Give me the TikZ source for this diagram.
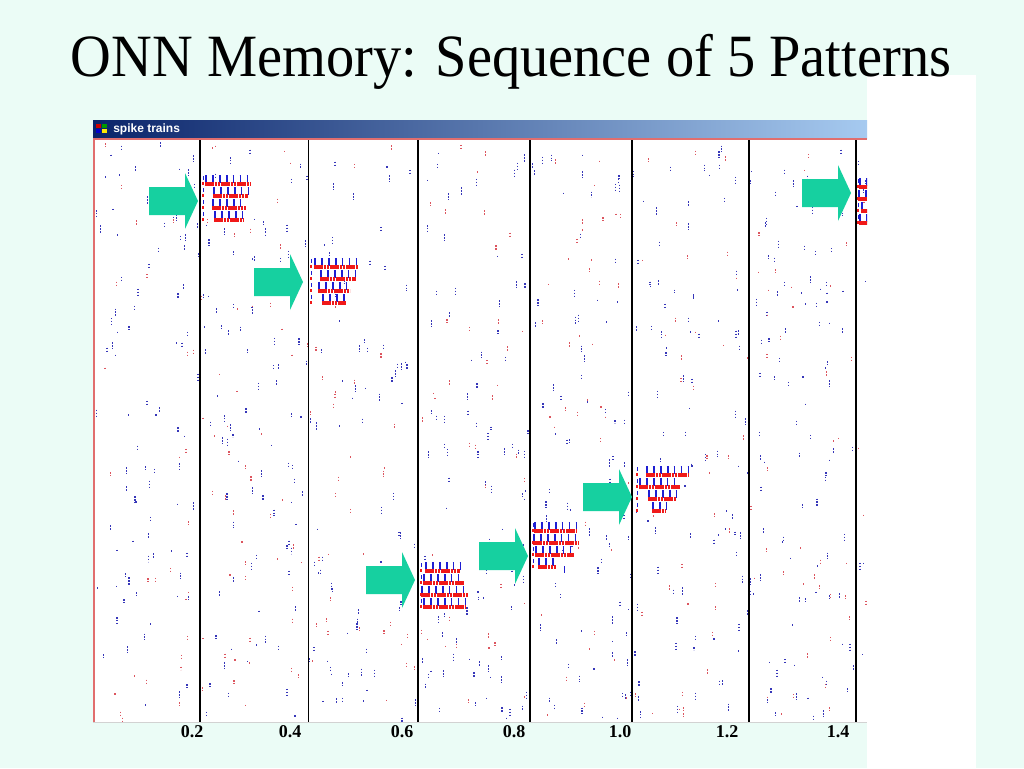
\documentclass[tikz,border=0pt]{standalone}
\usepackage{fontspec}
\setmainfont{Liberation Serif}
\newfontfamily\barfont{Liberation Sans}
\definecolor{bgmint}{RGB}{235,252,246}
\definecolor{arrowteal}{RGB}{22,208,160}
\definecolor{spikeblue}{RGB}{30,30,210}
\definecolor{spikered}{RGB}{240,25,25}
\definecolor{noiseblue}{RGB}{55,55,185}
\definecolor{noisered}{RGB}{220,85,95}
\definecolor{barleft}{RGB}{10,36,106}
\definecolor{barright}{RGB}{166,202,240}
\definecolor{edgered}{RGB}{225,110,110}
\tikzset{
  axlabel/.style={font=\bfseries\fontsize{13.5}{15}\selectfont, inner sep=0pt},
  marker/.style={black, line width=0.8pt},
  bluetick/.style={spikeblue, line width=5.6pt, dash pattern=on 1.3pt off 3.9pt},
  redbar/.style={spikered, line width=3.4pt, dash pattern=on 1.9pt off 0.5pt},
  pointerfill/.style={fill=arrowteal},
}
\newcommand{\pointer}[2]{%
  \fill[pointerfill] (#1-49,#2-14) -- (#1-13,#2-14) -- (#1-13,#2-28) -- (#1,#2)
    -- (#1-13,#2+28) -- (#1-13,#2+14) -- (#1-49,#2+14) -- cycle;}
\newcommand{\spikepat}[3]{%
  \foreach \l/\r [count=\k] in {#3}{%
    \pgfmathsetmacro\yb{#2+(\k-1)*12}%
    \draw[bluetick] (#1+\l,\yb+4) -- (#1+\r,\yb+4);
    \draw[redbar] (#1+\l,\yb+9) -- (#1+\r,\yb+9);
    \fill[spikered] (#1,\yb+7) rectangle ++(2,3);
    \fill[spikeblue] (#1+1,\yb+1) rectangle ++(1.2,4);
  }}
\begin{document}
\begin{tikzpicture}[x=0.75pt,y=-0.75pt]
\useasboundingbox (0,0) rectangle (1024,768);
\fill[bgmint] (0,0) rectangle (1024,768);
\fill[white] (867,75) rectangle (976,768);
\node[anchor=base, inner sep=0pt, font=\fontsize{45}{50}\selectfont, xscale=0.94] (title) at (511,76) {ONN Memory: Sequence of 5 Patterns};
% window title bar
\shade[left color=barleft, right color=barright] (93,120) rectangle (867,138);
\fill[red!80!black] (96,124) rectangle (101,128);
\fill[green!60!black] (102,124) rectangle (107,128);
\fill[blue!80!black] (96,129) rectangle (101,133);
\fill[yellow!90!orange] (102,129) rectangle (107,133);
\node[anchor=west, text=white, inner sep=0pt, font=\barfont\bfseries\fontsize{9}{10}\selectfont] (bartext) at (113,129) {spike trains};
\fill[edgered] (93,138) rectangle (867,140);
\fill[white] (93,140) rectangle (867,722);
\fill[edgered] (93,140) rectangle (94.5,722);
\draw[gray!35] (93,722) -- (867,722);
\begin{scope}
\clip (95,141) rectangle (867,721);
\pgfmathsetseed{17}
\foreach \i in {1,...,620}{%
  \pgfmathsetmacro\xx{96+770*rnd}%
  \pgfmathsetmacro\yy{142+576*rnd}%
  \pgfmathsetmacro\ll{1.5+6*rnd}%
  \draw[noiseblue, line width=0.9pt, dash pattern=on 1.1pt off 1.1pt] (\xx,\yy) -- ++(0,\ll);
}
\foreach \i in {1,...,280}{%
  \pgfmathsetmacro\xx{96+770*rnd}%
  \pgfmathsetmacro\yy{142+576*rnd}%
  \pgfmathsetmacro\ll{1.5+4*rnd}%
  \draw[noisered, line width=0.9pt, dash pattern=on 1.1pt off 1.1pt] (\xx,\yy) -- ++(0,\ll);
}
% stored patterns
\spikepat{202}{175}{3/48, 11/46, 10/44, 12/41}
\spikepat{310}{258}{4/48, 10/46, 8/40, 12/36}
\spikepat{420}{562}{5/40, 3/44, 1/48, 3/46}
\spikepat{532}{522}{2/44, 1/46, 3/42, 6/24}
\spikepat{636}{466}{10/52, 3/44, 12/40, 16/30}
\spikepat{857}{178}{2/14, 1/12, 4/14, 2/13}
\fill[spikeblue] (564,566) rectangle ++(1.2,7);
\end{scope}
% time markers
\foreach \xm [count=\j] in {200,308.5,418,530,632,749,856}{
  \draw[marker] (\xm,140) -- (\xm,722);
}
% arrows
\pointer{198}{201}
\pointer{303}{282}
\pointer{415}{580}
\pointer{528}{556}
\pointer{632}{497}
\pointer{851}{193}
% axis labels
\node[axlabel] (t02) at (192,732) {0.2};
\node[axlabel] (t04) at (290,732) {0.4};
\node[axlabel] (t06) at (402,732) {0.6};
\node[axlabel] (t08) at (514,732) {0.8};
\node[axlabel] (t10) at (620,732) {1.0};
\node[axlabel] (t12) at (727,732) {1.2};
\node[axlabel] (t14) at (838,732) {1.4};
\end{tikzpicture}
\end{document}
